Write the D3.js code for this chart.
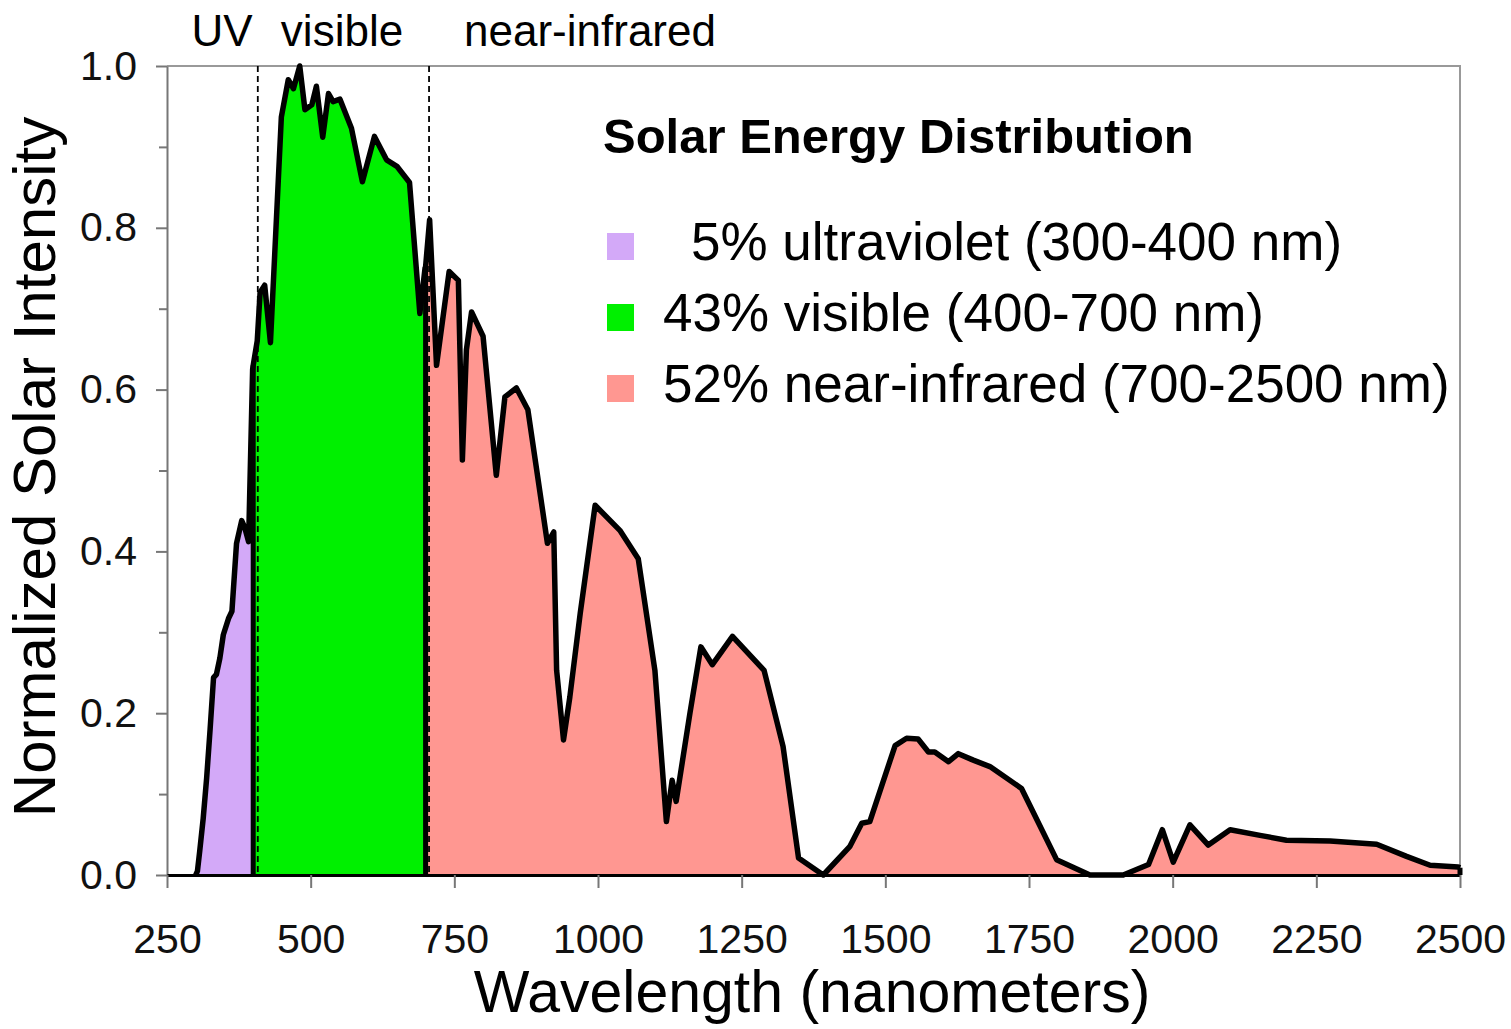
<!DOCTYPE html>
<html>
<head>
<meta charset="utf-8">
<script src="https://cdn.jsdelivr.net/npm/d3@7"></script>
<style>
  body { margin: 0; background: #fff; }
  svg { display: block; font-family: 'Liberation Sans', Arial, sans-serif; }
</style>
</head>
<body>
<svg id="chart" width="1511" height="1029"></svg>
<script>
// spectrum: wavelength (nm) -> normalized intensity
const wavelength = [
  300, 303, 307, 313, 319, 325, 331, 336, 342, 348,
  357, 363, 371, 380, 385, 392, 399, 400, 407, 412,
  420, 430, 449, 461, 470, 481, 490, 502, 510, 521,
  531, 539, 551, 571, 590, 611, 632, 650, 672, 690,
  699, 700, 707, 719, 741, 757, 764, 771, 780, 800,
  823, 838, 858, 878, 912, 923, 928, 940, 951, 969,
  995, 1038, 1070, 1099, 1119, 1129, 1136, 1160, 1179, 1199,
  1234, 1289, 1322, 1349, 1392, 1438, 1459, 1473, 1517, 1537,
  1557, 1575, 1586, 1610, 1627, 1653, 1682, 1737, 1798, 1856,
  1914, 1958, 1982, 2001, 2030, 2062, 2100, 2152, 2198, 2274,
  2355, 2407, 2448, 2497, 2500
];
const intensity = [
  0, 0.005, 0.03, 0.07, 0.12, 0.18, 0.244, 0.248, 0.268, 0.297,
  0.317, 0.326, 0.41, 0.438, 0.43, 0.412, 0.625, 0.63, 0.66, 0.72,
  0.729, 0.658, 0.937, 0.983, 0.972, 1.0, 0.946, 0.952, 0.975, 0.912,
  0.966, 0.956, 0.959, 0.923, 0.857, 0.913, 0.884, 0.876, 0.856, 0.694,
  0.75, 0.752, 0.81, 0.63, 0.746, 0.735, 0.513, 0.649, 0.696, 0.666,
  0.494, 0.591, 0.602, 0.575, 0.41, 0.424, 0.253, 0.167, 0.22, 0.323,
  0.457, 0.426, 0.391, 0.253, 0.066, 0.117, 0.091, 0.2, 0.282, 0.26,
  0.295, 0.253, 0.159, 0.021, 0, 0.035, 0.064, 0.066, 0.16, 0.169,
  0.168, 0.152, 0.152, 0.14, 0.15, 0.142, 0.134, 0.107, 0.019, 0,
  0, 0.013, 0.056, 0.016, 0.062, 0.037, 0.056, 0.049, 0.043, 0.042,
  0.038, 0.023, 0.012, 0.01, 0.009
];

// bands
const bandNames = ['UV', 'visible', 'near-infrared'];
const bandStart = [300, 400, 700];
const bandEnd = [400, 700, 2500];
const bandPct = [5, 43, 52];
const bandLegend = ['ultraviolet', 'visible', 'near-infrared'];
const dividers = [408, 706];

const xTicks = [250, 500, 750, 1000, 1250, 1500, 1750, 2000, 2250, 2500];
const yMajor = [0, 0.2, 0.4, 0.6, 0.8, 1.0];
const yMinor = [0.1, 0.3, 0.5, 0.7, 0.9];

const bandColors = ['#d3a9f8', '#00f000', '#ff9791'];

const svg = d3.select('#chart');
const x = d3.scaleLinear().domain([250, 2500]).range([167, 1460]);
const y = d3.scaleLinear().domain([0, 1]).range([875, 66]);

const data = wavelength.map((nm, i) => ({ nm, v: intensity[i] }));

// frame (top + right)
svg.append('path')
  .attr('d', `M${x(250)},${y(1)}H${x(2500)}V${y(0)}`)
  .attr('fill', 'none')
  .attr('stroke', '#999')
  .attr('stroke-width', 2);

// filled bands
const area = d3.area()
  .x(d => x(d.nm))
  .y0(y(0))
  .y1(d => y(d.v));

bandStart.forEach((a, i) => {
  const pts = data.filter(d => d.nm >= a && d.nm <= bandEnd[i]);
  svg.append('path')
    .attr('d', area(pts))
    .attr('fill', bandColors[i]);
});

// dashed band dividers
svg.selectAll('line.divider')
  .data(dividers)
  .join('line')
  .attr('class', 'divider')
  .attr('x1', d => x(d)).attr('x2', d => x(d))
  .attr('y1', y(1)).attr('y2', y(0))
  .attr('stroke', '#000')
  .attr('stroke-width', 1.8)
  .attr('stroke-dasharray', '6,4');

// outline
const line = d3.line().x(d => x(d.nm)).y(d => y(d.v));
svg.append('path')
  .attr('d', line(data))
  .attr('fill', 'none')
  .attr('stroke', '#000')
  .attr('stroke-width', 5.5)
  .attr('stroke-linejoin', 'round');

// vertical edges at the band limits
const edges = [400, 700, 2500].map(nm => data.find(d => d.nm === nm));
svg.selectAll('line.edge')
  .data(edges)
  .join('line')
  .attr('class', 'edge')
  .attr('x1', d => x(d.nm)).attr('x2', d => x(d.nm))
  .attr('y1', y(0)).attr('y2', d => y(d.v))
  .attr('stroke', '#000')
  .attr('stroke-width', 5);

// axes
const yAxisMinor = svg.append('g')
  .attr('transform', `translate(${x(250)},0)`)
  .call(d3.axisLeft(y).tickValues(yMinor).tickSize(8).tickFormat(''));
yAxisMinor.select('.domain').remove();

const yAxis = svg.append('g')
  .attr('transform', `translate(${x(250)},0)`)
  .call(d3.axisLeft(y).tickValues(yMajor).tickSize(11).tickSizeOuter(0)
    .tickPadding(19).tickFormat(d3.format('.1f')));

const xAxis = svg.append('g')
  .attr('transform', `translate(0,${y(0)})`)
  .call(d3.axisBottom(x).tickValues(xTicks).tickSize(13).tickSizeOuter(0)
    .tickPadding(36).tickFormat(d3.format('d')));

[yAxis, xAxis].forEach(g => {
  g.attr('font-size', 41).attr('font-family', null);
  g.selectAll('text').attr('fill', '#111');
});
[yAxis, yAxisMinor, xAxis].forEach(g => {
  g.selectAll('.tick line').attr('stroke', '#777').attr('stroke-width', 2);
});
yAxis.select('.domain').attr('stroke', '#777').attr('stroke-width', 2);
xAxis.select('.domain').attr('stroke', '#000').attr('stroke-width', 3);

// axis titles
svg.append('text')
  .attr('transform', 'translate(55,467) rotate(-90)')
  .attr('text-anchor', 'middle')
  .attr('font-size', 60)
  .text('Normalized Solar Intensity');

svg.append('text')
  .attr('x', 812).attr('y', 1012)
  .attr('text-anchor', 'middle')
  .attr('font-size', 59)
  .text('Wavelength (nanometers)');

// band names above the plot
const bandLabelX = [222, 342, 590];
svg.selectAll('text.band')
  .data(bandNames)
  .join('text')
  .attr('class', 'band')
  .attr('x', (d, i) => bandLabelX[i])
  .attr('y', 46)
  .attr('text-anchor', 'middle')
  .attr('font-size', 44)
  .text(d => d);

// legend
svg.append('text')
  .attr('x', 603).attr('y', 153)
  .attr('font-size', 49)
  .attr('font-weight', 'bold')
  .text('Solar Energy Distribution');

const rows = svg.selectAll('g.legend')
  .data(bandPct)
  .join('g')
  .attr('class', 'legend')
  .attr('transform', (d, i) => `translate(607,${260 + i * 71})`);

rows.append('rect')
  .attr('x', 0).attr('y', -27)
  .attr('width', 27).attr('height', 27)
  .attr('fill', (d, i) => bandColors[i]);

rows.append('text')
  .attr('x', (d) => (d < 10 ? 84 : 56))
  .attr('y', 0)
  .attr('font-size', 53)
  .text((d, i) => `${d}% ${bandLegend[i]} (${bandStart[i]}-${bandEnd[i]} nm)`);
</script>
</body>
</html>
